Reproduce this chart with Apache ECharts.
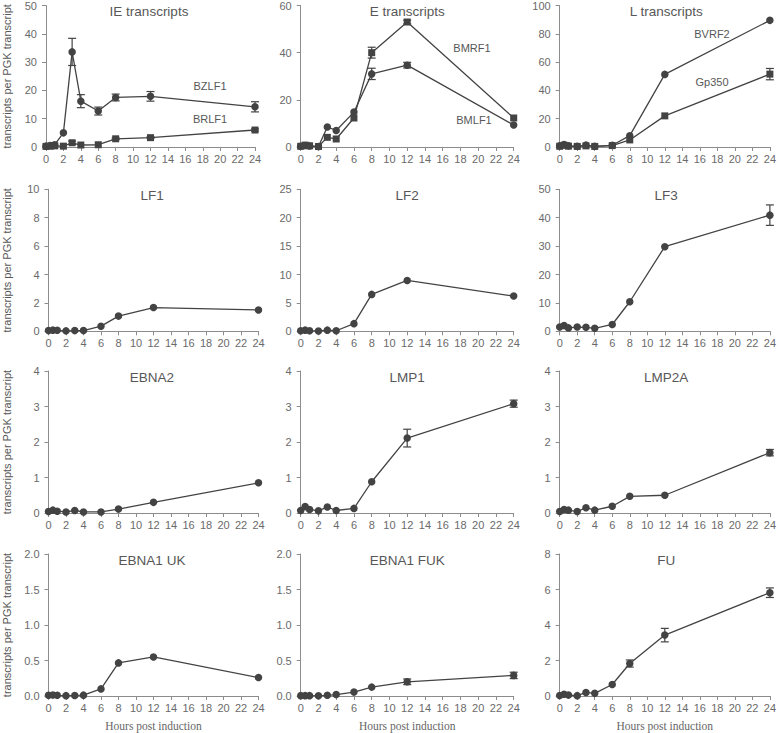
<!DOCTYPE html>
<html>
<head>
<meta charset="utf-8">
<script src="https://cdn.jsdelivr.net/npm/echarts@6/dist/echarts.min.js"></script>
<style>
html,body{margin:0;padding:0;background:#fff;}
#chart{width:779px;height:733px;}
</style>
</head>
<body>
<div id="chart"></div>
<script>
// ---- data ----
const hours = [0, 0.5, 1, 2, 3, 4, 6, 8, 12, 24];
const xTickLabels = [0, 2, 4, 6, 8, 10, 12, 14, 16, 18, 20, 22, 24];

const panelTitles = ['IE transcripts', 'E transcripts', 'L transcripts', 'LF1', 'LF2', 'LF3',
  'EBNA2', 'LMP1', 'LMP2A', 'EBNA1 UK', 'EBNA1 FUK', 'FU'];
const yMax = [50, 60, 100, 10, 25, 50, 4, 4, 4, 2, 2, 8];
const yStep = [10, 20, 20, 2, 5, 10, 1, 1, 1, 0.5, 0.5, 2];

const bzlf1 = [0.3, 0.5, 0.8, 5.0, 33.6, 16.2, 12.7, 17.5, 17.9, 14.2];
const bzlf1Err = [0, 0, 0, 0, 4.8, 2.3, 1.4, 1.2, 1.7, 1.8];
const brlf1 = [0.2, 0.3, 0.4, 0.3, 1.5, 0.7, 0.8, 2.9, 3.3, 6.0];
const brlf1Err = [0, 0, 0, 0, 0.6, 0, 0, 0.3, 0.3, 0.4];

const bmrf1 = [0.3, 0.8, 0.5, 0.2, 4.1, 3.4, 12.3, 40.0, 53.0, 12.3];
const bmrf1Err = [0, 0, 0, 0, 0, 0, 0, 2.3, 0.8, 0];
const bmlf1 = [0.3, 0.6, 0.4, 0.2, 8.5, 7.0, 14.8, 31.0, 34.7, 9.3];
const bmlf1Err = [0, 0, 0, 0, 0, 0, 0, 2.4, 1.2, 0];

const bvrf2 = [0.8, 1.8, 0.8, 0.5, 1.3, 0.5, 1.2, 8.0, 51.3, 89.5];
const bvrf2Err = [0, 0, 0, 0, 0, 0, 0, 0, 0, 0];
const gp350 = [0.5, 1.2, 0.6, 0.4, 0.8, 0.4, 1.0, 5.0, 22.0, 51.5];
const gp350Err = [0, 0, 0, 0, 0, 0, 0, 0, 0, 4.0];

const lf1 = [0.05, 0.08, 0.07, 0.03, 0.05, 0.05, 0.36, 1.07, 1.67, 1.5];
const lf1Err = [0, 0, 0, 0, 0, 0, 0, 0, 0, 0];
const lf2 = [0.1, 0.2, 0.1, 0.05, 0.2, 0.1, 1.35, 6.5, 8.95, 6.2];
const lf2Err = [0, 0, 0, 0, 0, 0, 0, 0, 0, 0];
const lf3 = [1.5, 2.0, 1.2, 1.5, 1.4, 1.05, 2.4, 10.4, 29.8, 40.9];
const lf3Err = [0, 0, 0, 0, 0, 0, 0, 0, 0, 3.6];

const ebna2 = [0.04, 0.08, 0.05, 0.03, 0.07, 0.03, 0.03, 0.11, 0.3, 0.85];
const ebna2Err = [0, 0, 0, 0, 0, 0, 0, 0, 0, 0];
const lmp1 = [0.07, 0.18, 0.1, 0.06, 0.17, 0.07, 0.13, 0.88, 2.11, 3.08];
const lmp1Err = [0, 0, 0, 0, 0, 0, 0, 0, 0.25, 0.1];
const lmp2a = [0.04, 0.1, 0.08, 0.04, 0.15, 0.08, 0.19, 0.47, 0.5, 1.7];
const lmp2aErr = [0, 0, 0, 0, 0, 0, 0, 0, 0, 0.09];

const ebna1uk = [0.01, 0.015, 0.01, 0.005, 0.008, 0.012, 0.1, 0.466, 0.55, 0.26];
const ebna1ukErr = [0, 0, 0, 0, 0, 0, 0, 0, 0, 0];
const ebna1fuk = [0.005, 0.005, 0.005, 0.003, 0.01, 0.02, 0.055, 0.125, 0.2, 0.29];
const ebna1fukErr = [0, 0, 0, 0, 0, 0, 0, 0, 0.04, 0.045];
const fu = [0.03, 0.1, 0.05, 0.02, 0.2, 0.15, 0.65, 1.83, 3.43, 5.82];
const fuErr = [0, 0, 0, 0, 0, 0, 0, 0.2, 0.38, 0.27];

// series per panel: [values, errors, symbol]
const panelSeries = [
  [[bzlf1, bzlf1Err, 'circle'], [brlf1, brlf1Err, 'rect']],
  [[bmrf1, bmrf1Err, 'rect'], [bmlf1, bmlf1Err, 'circle']],
  [[bvrf2, bvrf2Err, 'circle'], [gp350, gp350Err, 'rect']],
  [[lf1, lf1Err, 'circle']],
  [[lf2, lf2Err, 'circle']],
  [[lf3, lf3Err, 'circle']],
  [[ebna2, ebna2Err, 'circle']],
  [[lmp1, lmp1Err, 'circle']],
  [[lmp2a, lmp2aErr, 'circle']],
  [[ebna1uk, ebna1ukErr, 'circle']],
  [[ebna1fuk, ebna1fukErr, 'circle']],
  [[fu, fuErr, 'circle']]
];

const seriesLabels = [
  { text: 'BZLF1', x: 210, y: 86 },
  { text: 'BRLF1', x: 210, y: 119 },
  { text: 'BMRF1', x: 472, y: 48 },
  { text: 'BMLF1', x: 474, y: 120 },
  { text: 'BVRF2', x: 712, y: 34 },
  { text: 'Gp350', x: 712, y: 82 }
];

// ---- layout ----
const rowTop = [5, 189.3, 371, 554];
const colLeft = [45.5, 300.7, 559.7];
const plotW = 213, plotH = 142;

const lineColor = '#434343';
const axisColor = '#8c8c8c';
const labelColor = '#6a6a6a';
const textColor = '#575757';
const sans = 'Liberation Sans, Arial, sans-serif';

const grids = [], xAxes = [], yAxes = [], series = [], graphics = [];

for (let p = 0; p < 12; p++) {
  const r = Math.floor(p / 3), c = p % 3;
  let left = colLeft[c], w = plotW;
  if (p === 0) { left = 43; w = 212; }
  const top = rowTop[r];
  grids.push({ left: left, top: top, width: w, height: plotH, containLabel: false });
  xAxes.push({
    type: 'value', gridIndex: p, min: 0, max: 24, interval: 2,
    axisLine: { show: true, onZero: false, lineStyle: { color: axisColor, width: 1 } },
    axisTick: { show: true, length: 4, lineStyle: { color: axisColor } },
    axisLabel: { color: labelColor, fontSize: 11, fontFamily: sans, margin: 6,
      formatter: function (v) { return xTickLabels.indexOf(v) >= 0 ? String(v) : ''; } },
    splitLine: { show: false },
    name: r === 3 ? 'Hours post induction' : '',
    nameLocation: 'middle', nameGap: 24,
    nameTextStyle: { color: '#666', fontSize: 11.5, fontFamily: 'Liberation Serif, Times New Roman, serif' }
  });
  const dec = yStep[p] < 1 ? 1 : 0;
  yAxes.push({
    type: 'value', gridIndex: p, min: 0, max: yMax[p], interval: yStep[p],
    axisLine: { show: true, lineStyle: { color: axisColor, width: 1 } },
    axisTick: { show: true, length: 4, lineStyle: { color: axisColor } },
    axisLabel: { color: labelColor, fontSize: 11, fontFamily: sans, margin: 9,
      formatter: function (v) { return v.toFixed(dec); } },
    splitLine: { show: false },
    name: c === 0 ? 'transcripts per PGK transcript' : '',
    nameLocation: 'middle', nameGap: left - 9,
    nameTextStyle: { color: textColor, fontSize: 11, fontFamily: sans }
  });
  graphics.push({
    type: 'text', x: left + w / 2, y: top + 6,
    style: { text: panelTitles[p], fill: textColor, font: '13.5px ' + sans,
      textAlign: 'center', textVerticalAlign: 'middle' }
  });
  panelSeries[p].forEach(function (s) {
    const vals = s[0], errs = s[1], sym = s[2];
    series.push({
      type: 'line', xAxisIndex: p, yAxisIndex: p,
      data: hours.map(function (h, i) { return [h, vals[i]]; }),
      symbol: sym, symbolSize: sym === 'rect' ? 7 : 7.5, showSymbol: true,
      lineStyle: { color: lineColor, width: 1.3 },
      itemStyle: { color: lineColor, borderWidth: 0 },
      z: 3, silent: true
    });
    series.push({
      type: 'custom', xAxisIndex: p, yAxisIndex: p, z: 4, silent: true,
      data: hours.map(function (h, i) { return [h, vals[i], errs[i]]; }),
      encode: { x: 0, y: 1 },
      renderItem: function (params, api) {
        const x = api.value(0), y = api.value(1), e = api.value(2);
        if (!e) return null;
        const t = api.coord([x, y + e]), b = api.coord([x, y - e]);
        const hw = 4, st = { stroke: lineColor, lineWidth: 1.2 };
        return { type: 'group', children: [
          { type: 'line', shape: { x1: t[0], y1: t[1], x2: b[0], y2: b[1] }, style: st },
          { type: 'line', shape: { x1: t[0] - hw, y1: t[1], x2: t[0] + hw, y2: t[1] }, style: st },
          { type: 'line', shape: { x1: b[0] - hw, y1: b[1], x2: b[0] + hw, y2: b[1] }, style: st }
        ] };
      }
    });
  });
}

seriesLabels.forEach(function (l) {
  graphics.push({ type: 'text', x: l.x, y: l.y,
    style: { text: l.text, fill: textColor, font: '11px ' + sans, textAlign: 'center', textVerticalAlign: 'middle' } });
});

const chart = echarts.init(document.getElementById('chart'), null, { renderer: 'svg' });
chart.setOption({
  animation: false,
  backgroundColor: '#fff',
  grid: grids, xAxis: xAxes, yAxis: yAxes, series: series,
  graphic: graphics
});
</script>
</body>
</html>
